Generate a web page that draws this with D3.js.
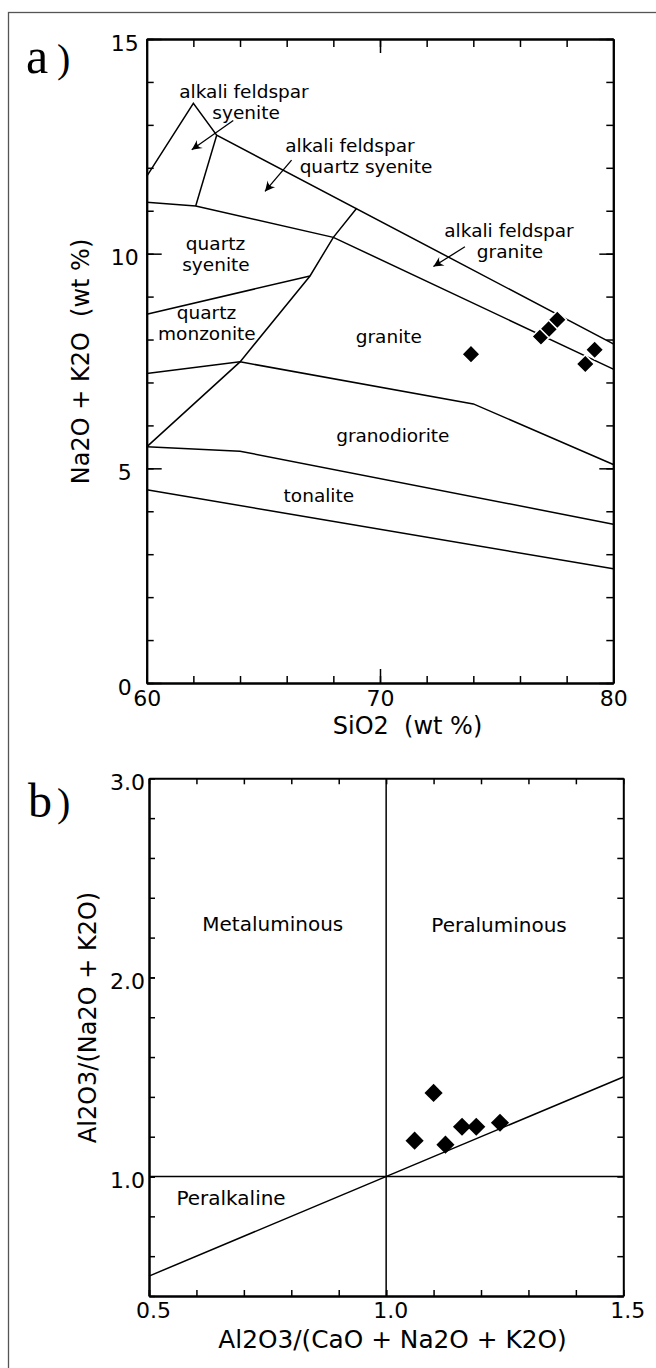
<!DOCTYPE html>
<html>
<head>
<meta charset="utf-8">
<script src="https://cdn.jsdelivr.net/npm/d3@7"></script>
<style>
  body { margin: 0; background: #fff; }
  svg text { font-family: "DejaVu Sans", Verdana, sans-serif; fill: #000; }
</style>
</head>
<body>
<div id="chart"></div>
<script>
// ---- panel a: SiO2 vs Na2O + K2O ----
var sio2 = [73.9, 76.9, 77.25, 77.6, 78.8, 79.2];
var alkalis = [7.66, 8.07, 8.25, 8.46, 7.43, 7.76];

// field boundaries, [SiO2, Na2O+K2O]
var upperBound = [[60, 11.8], [62, 13.5], [63, 12.76], [80, 7.9]];
var afsSplit = [[62.1, 11.11], [63, 12.76]];
var quartzBound = [[60, 11.2], [62.1, 11.11], [68, 10.38], [80, 7.31]];
var graniteLeft = [[60, 5.5], [64, 7.48], [67, 9.48], [68, 10.38], [69, 11.06]];
var qsQm = [[60, 8.59], [67, 9.48]];
var graniteGd = [[60, 7.21], [64, 7.48], [74, 6.5], [80, 5.09]];
var gdTonalite = [[60, 5.5], [64, 5.4], [80, 3.7]];
var tonaliteBase = [[60, 4.5], [80, 2.66]];

var fieldNames = [
  ["alkali feldspar", 64.17, 13.62], ["syenite", 64.26, 13.13],
  ["alkali feldspar", 68.71, 12.37], ["quartz syenite", 69.4, 11.89],
  ["alkali feldspar", 75.53, 10.39], ["granite", 75.57, 9.9],
  ["quartz", 62.95, 10.09], ["syenite", 62.97, 9.6],
  ["quartz", 62.56, 8.47], ["monzonite", 62.58, 7.98],
  ["granite", 70.38, 7.92],
  ["granodiorite", 70.55, 5.61],
  ["tonalite", 67.38, 4.22]
];
var fieldArrows = [
  [[63.71, 13.1], [61.93, 12.42]],
  [[66.21, 12.18], [65.07, 11.45]],
  [[73.64, 10.16], [72.29, 9.7]]
];

// ---- panel b: A/CNK vs A/NK ----
var acnk = [1.06, 1.10, 1.125, 1.16, 1.19, 1.24];
var ank = [1.18, 1.42, 1.16, 1.25, 1.25, 1.27];

var acnkDivide = [[1.0, 0.4], [1.0, 3.0]];
var ankDivide = [[0.5, 1.0], [1.5, 1.0]];
var equalLine = [[0.5, 0.5], [1.5, 1.5]];

var bNames = [
  ["Metaluminous", 0.761, 2.233],
  ["Peraluminous", 1.238, 2.228],
  ["Peralkaline", 0.673, 0.857]
];

var width = 656, height = 1368;

var svg = d3.select("#chart")
    .append("svg")
    .attr("width", width)
    .attr("height", height);

// outer frame
svg.append("rect")
    .attr("x", 8.5).attr("y", 12.5)
    .attr("width", 700).attr("height", 1400)
    .attr("fill", "none")
    .attr("stroke", "#555")
    .attr("stroke-width", 1.3);

var defs = svg.append("defs");
defs.append("marker")
    .attr("id", "head")
    .attr("markerUnits", "userSpaceOnUse")
    .attr("viewBox", "-11 -6 12 12")
    .attr("refX", 0).attr("refY", 0)
    .attr("markerWidth", 12).attr("markerHeight", 12)
    .attr("orient", "auto")
    .append("path")
    .attr("d", "M0,0 L-10,-5 Q-5,0 -10,5 Z")
    .attr("fill", "#000");

function drawAxis(g, axis, transform, values, size, fmt, pad) {
  var a = g.append("g")
      .attr("transform", transform)
      .call(axis.tickValues(values).tickSize(-size).tickSizeOuter(0)
          .tickPadding(pad || 3).tickFormat(fmt || ""));
  a.attr("font-family", null).attr("font-size", 22);
  a.select(".domain").attr("stroke-width", 2);
  a.selectAll(".tick line").attr("stroke-width", 1.5);
  return a;
}

function diamond() {
  return d3.symbol().type(d3.symbolSquare).size(165)();
}

// ================= panel a =================
var xA = d3.scaleLinear().domain([60, 80]).range([146.7, 613.3]);
var yA = d3.scaleLinear().domain([0, 15]).range([683, 39]);
var lineA = d3.line().x(function(d) { return xA(d[0]); }).y(function(d) { return yA(d[1]); });

var gA = svg.append("g");

gA.selectAll("path.bound")
    .data([upperBound, afsSplit, quartzBound, graniteLeft, qsQm, graniteGd, gdTonalite, tonaliteBase])
    .enter().append("path")
    .attr("class", "bound")
    .attr("d", lineA)
    .attr("fill", "none")
    .attr("stroke", "#000")
    .attr("stroke-width", 1.5);

gA.selectAll("path.arrow")
    .data(fieldArrows)
    .enter().append("path")
    .attr("class", "arrow")
    .attr("d", lineA)
    .attr("fill", "none")
    .attr("stroke", "#000")
    .attr("stroke-width", 1.3)
    .attr("marker-end", "url(#head)");

gA.selectAll("text.field")
    .data(fieldNames)
    .enter().append("text")
    .attr("class", "field")
    .attr("x", function(d) { return xA(d[1]); })
    .attr("y", function(d) { return yA(d[2]); })
    .attr("text-anchor", "middle")
    .attr("font-size", 18.5)
    .text(function(d) { return d[0]; });

var yMinorA = d3.range(0, 16), yMajorA = [0, 5, 10, 15];
var xMinorA = d3.range(60, 81, 2), xMajorA = [60, 70, 80];

drawAxis(gA, d3.axisRight(yA), "translate(613.3,0)", yMinorA, 7);
drawAxis(gA, d3.axisRight(yA), "translate(613.3,0)", yMajorA, 14);
drawAxis(gA, d3.axisTop(xA), "translate(0,39)", xMinorA, 8);
drawAxis(gA, d3.axisTop(xA), "translate(0,39)", [70], 14);
drawAxis(gA, d3.axisLeft(yA), "translate(146.7,0)", yMinorA, 7);
drawAxis(gA, d3.axisLeft(yA), "translate(146.7,0)", yMajorA, 15, d3.format("d"))
    .selectAll("text")
    .attr("text-anchor", "middle")
    .attr("x", -22)
    .attr("dy", "0.5em");
drawAxis(gA, d3.axisBottom(xA), "translate(0,683)", xMinorA, 7);
drawAxis(gA, d3.axisBottom(xA), "translate(0,683)", xMajorA, 14, d3.format("d"), 7.4);

gA.selectAll("path.pt")
    .data(sio2)
    .enter().append("path")
    .attr("class", "pt")
    .attr("d", diamond())
    .attr("transform", function(d, i) {
      return "translate(" + xA(d) + "," + yA(alkalis[i]) + ") rotate(45)";
    })
    .attr("fill", "#000")
    .attr("stroke", "#fff")
    .attr("stroke-width", 1.5);

gA.append("text")
    .attr("transform", "translate(89,361.5) rotate(-90)")
    .attr("text-anchor", "middle")
    .attr("font-size", 24)
    .style("white-space", "pre")
    .text("Na2O + K2O  (wt %)");

gA.append("text")
    .attr("x", 407.5).attr("y", 734)
    .attr("text-anchor", "middle")
    .attr("font-size", 24)
    .style("white-space", "pre")
    .text("SiO2  (wt %)");

svg.append("text").attr("x", 26).attr("y", 73)
    .style("font-family", "'Liberation Serif', 'DejaVu Serif', serif")
    .attr("font-size", 50).text("a");
svg.append("text").attr("x", 57).attr("y", 72)
    .style("font-family", "'Liberation Serif', 'DejaVu Serif', serif")
    .attr("font-size", 40).text(")");

// ================= panel b =================
var xB = d3.scaleLinear().domain([0.5, 1.5]).range([149, 623.3]);
var yB = d3.scaleLinear().domain([0.4, 3.0]).range([1296, 778.3]);
var lineB = d3.line().x(function(d) { return xB(d[0]); }).y(function(d) { return yB(d[1]); });

var gB = svg.append("g");

gB.selectAll("path.bound")
    .data([acnkDivide, ankDivide, equalLine])
    .enter().append("path")
    .attr("class", "bound")
    .attr("d", lineB)
    .attr("fill", "none")
    .attr("stroke", "#000")
    .attr("stroke-width", 1.5);

gB.selectAll("text.field")
    .data(bNames)
    .enter().append("text")
    .attr("class", "field")
    .attr("x", function(d) { return xB(d[1]); })
    .attr("y", function(d) { return yB(d[2]); })
    .attr("text-anchor", "middle")
    .attr("font-size", 20)
    .text(function(d) { return d[0]; });

var yTicksB = d3.range(0, 14).map(function(i) { return 0.4 + i * 0.2; });
var xTicksB = d3.range(0, 11).map(function(i) { return 0.5 + i * 0.1; });

drawAxis(gB, d3.axisRight(yB), "translate(623.3,0)", yTicksB, 6);
drawAxis(gB, d3.axisTop(xB), "translate(0,778.3)", xTicksB, 6);
drawAxis(gB, d3.axisLeft(yB), "translate(149,0)", yTicksB, 6);
drawAxis(gB, d3.axisLeft(yB), "translate(149,0)", [1.0, 2.0, 3.0], 6, d3.format(".1f"), 4)
    .selectAll("text").attr("dy", "0.5em");
drawAxis(gB, d3.axisBottom(xB), "translate(0,1296)", xTicksB, 6);
drawAxis(gB, d3.axisBottom(xB), "translate(0,1296)", [0.5, 1.0, 1.5], 6, d3.format(".1f"), 6.5)
    .selectAll("text").attr("dx", 4);

gB.selectAll("path.pt")
    .data(acnk)
    .enter().append("path")
    .attr("class", "pt")
    .attr("d", diamond())
    .attr("transform", function(d, i) {
      return "translate(" + xB(d) + "," + yB(ank[i]) + ") rotate(45)";
    })
    .attr("fill", "#000");

gB.append("text")
    .attr("transform", "translate(96,1017.5) rotate(-90)")
    .attr("text-anchor", "middle")
    .attr("font-size", 24)
    .text("Al2O3/(Na2O + K2O)");

gB.append("text")
    .attr("x", 392.5).attr("y", 1348)
    .attr("text-anchor", "middle")
    .attr("font-size", 24.8)
    .text("Al2O3/(CaO + Na2O + K2O)");

svg.append("text").attr("x", 28).attr("y", 817)
    .style("font-family", "'Liberation Serif', 'DejaVu Serif', serif")
    .attr("font-size", 48).text("b");
svg.append("text").attr("x", 57).attr("y", 816)
    .style("font-family", "'Liberation Serif', 'DejaVu Serif', serif")
    .attr("font-size", 40).text(")");
</script>
</body>
</html>
